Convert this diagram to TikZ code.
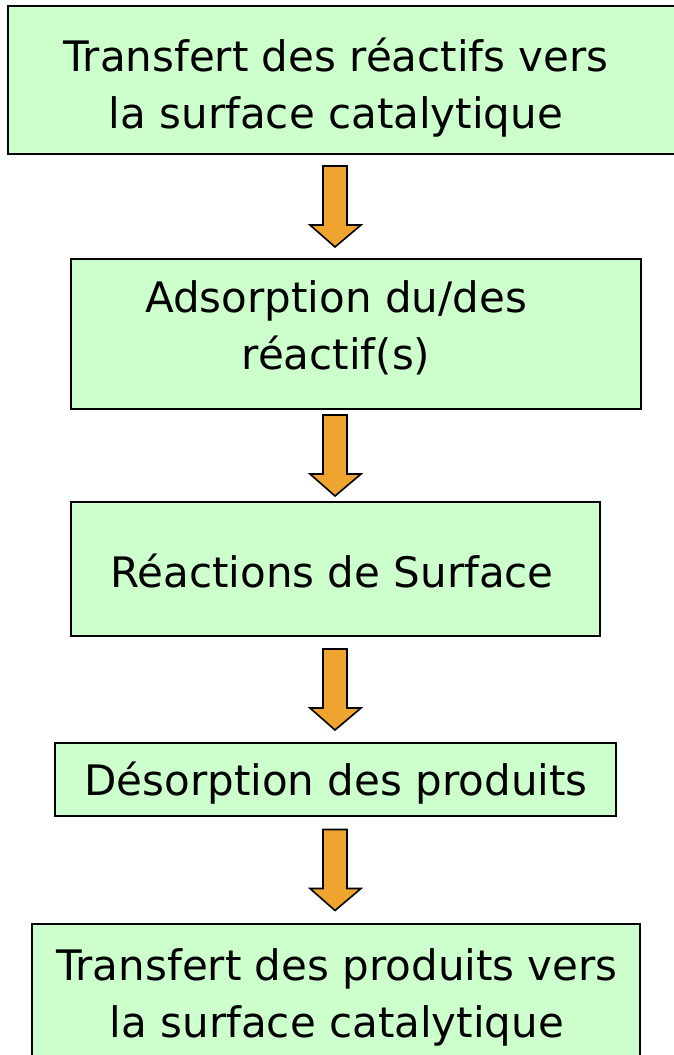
\documentclass[tikz,border=0pt]{standalone}
\usepackage{fontspec}
\setmainfont{DejaVu Sans}
\usetikzlibrary{calc}
\definecolor{boxgreen}{HTML}{CCFFCC}
\definecolor{arroworange}{HTML}{F0A430}
\tikzset{
  box/.style={draw=black, line width=2.5pt, fill=boxgreen, rectangle, inner sep=0pt},
  txt/.style={align=center, inner sep=0pt, font=\fontsize{42}{57}\selectfont},
  orangearrow/.style={draw=black, line width=1.6pt, fill=arroworange, line join=miter}
}
\newcommand\arrowbetween[2]{%
  \path[orangearrow] let \p1=(#1.south), \p2=(#2.north) in
    (323pt,{0.5*(\y1+\y2)+40.5pt}) -- (347pt,{0.5*(\y1+\y2)+40.5pt})
    -- (347pt,{0.5*(\y1+\y2)-18.5pt}) -- (361pt,{0.5*(\y1+\y2)-18.5pt})
    -- (335pt,{0.5*(\y1+\y2)-40.5pt}) -- (310pt,{0.5*(\y1+\y2)-18.5pt})
    -- (323pt,{0.5*(\y1+\y2)-18.5pt}) -- cycle;}
\begin{document}
\begin{tikzpicture}[x=1pt,y=-1pt]
\useasboundingbox (0,0) rectangle (673,1055);
% boxes
\node[box, minimum width=667pt, minimum height=148pt] (b1) at (341.5,80) {};
\node[box, minimum width=570pt, minimum height=150pt] (b2) at (356,334) {};
\node[box, minimum width=529pt, minimum height=134pt] (b3) at (335.5,569) {};
\node[box, minimum width=561pt, minimum height=73pt] (b4) at (335.5,779.5) {};
\node[box, minimum width=608pt, minimum height=138pt] (b5) at (336,993) {};
% texts
\node[txt] (t1) at (336,87.5) {Transfert des réactifs vers\\la surface catalytique};
\node[txt] (t2) at (336,328) {Adsorption du/des\\réactif(s)};
\node[txt] (t3) at (332,571) {Réactions de Surface};
\node[txt] (t4) at (336,783) {Désorption des produits};
\node[txt] (t5) at (337,997) {Transfert des produits vers\\la surface catalytique};
% arrows
\arrowbetween{b1}{b2}
\arrowbetween{b2}{b3}
\arrowbetween{b3}{b4}
\arrowbetween{b4}{b5}
\end{tikzpicture}
\end{document}
